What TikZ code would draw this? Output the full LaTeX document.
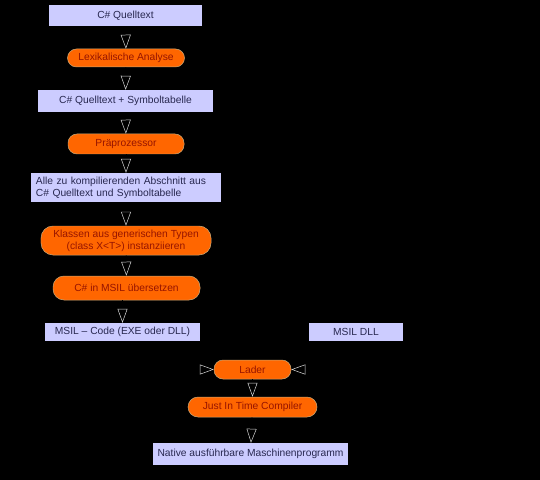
\documentclass[tikz,border=0pt]{standalone}
\usepackage{fontspec}
\setmainfont{Liberation Sans}
\usetikzlibrary{arrows.meta}
\definecolor{boxfill}{RGB}{204,204,255}
\definecolor{boxtext}{RGB}{40,40,80}
\definecolor{procfill}{RGB}{255,102,0}
\definecolor{proctext}{RGB}{150,20,0}
\definecolor{procedge}{RGB}{200,170,120}
\begin{document}
\begin{tikzpicture}[x=1bp,y=-1bp,
  databox/.style={draw=none,fill=boxfill,text=boxtext,font=\fontsize{10.3}{12}\selectfont,align=left,inner sep=0pt},
  procbox/.style={draw=procedge,line width=0.5pt,fill=procfill,text=proctext,rounded corners=9bp,font=\fontsize{10.3}{12}\selectfont,align=center,inner sep=0pt},
  flow/.style={draw=black,line width=0.6pt,-{Triangle[open,length=14bp,width=10bp,color=white!85!black,line width=0.5pt]}}
]
\fill[black] (0,0) rectangle (540,480);
\useasboundingbox (0,0) rectangle (540,480);
\node[databox,minimum width=153bp,minimum height=21bp,align=center] (q) at (125.5,15.5) {C\# Quelltext};
\node[procbox,minimum width=117bp,minimum height=18bp] (lex) at (126,58) {Lexikalische Analyse};
\node[databox,minimum width=175bp,minimum height=22bp,align=center] (qs) at (125.5,101) {C\# Quelltext + Symboltabelle};
\node[procbox,minimum width=116bp,minimum height=20bp] (pre) at (126,144) {Präprozessor};
\node[databox,minimum width=190bp,minimum height=29bp,text width=180bp] (alle) at (126,187.5) {Alle zu kompilierenden Abschnitt aus\\C\# Quelltext und Symboltabelle};
\node[procbox,minimum width=170bp,minimum height=29bp,rounded corners=12bp] (kl) at (126,240.5) {Klassen aus generischen Typen\\(class X<T>) instanziieren};
\node[procbox,minimum width=147bp,minimum height=24bp,rounded corners=11bp] (msil) at (126.5,288) {C\# in MSIL übersetzen};
\node[databox,minimum width=155bp,minimum height=18bp,align=center] (code) at (122.5,332) {MSIL – Code (EXE oder DLL)};
\node[databox,minimum width=94bp,minimum height=18bp,align=center] (dll) at (356,332) {MSIL DLL};
\node[procbox,minimum width=77bp,minimum height=19bp] (lader) at (252.5,369.5) {Lader};
\node[procbox,minimum width=129bp,minimum height=20bp,rounded corners=10bp] (jit) at (252.5,407) {Just In Time Compiler};
\node[databox,minimum width=195bp,minimum height=22bp,align=center] (nat) at (250.5,454) {Native ausführbare Maschinenprogramm};
\draw[flow] (q) -- (lex);
\draw[flow] (lex) -- (qs);
\draw[flow] (qs) -- (pre);
\draw[flow] (pre) -- (alle);
\draw[flow] (alle) -- (kl);
\draw[flow] (kl) -- (msil);
\draw[flow] (msil.south -| code.north) -- (code.north);
\draw[flow] (code.south) |- (lader.west);
\draw[flow] (dll.south) |- (lader.east);
\draw[flow] (lader) -- (jit);
\draw[flow] (jit) -- (nat);
\end{tikzpicture}
\end{document}
